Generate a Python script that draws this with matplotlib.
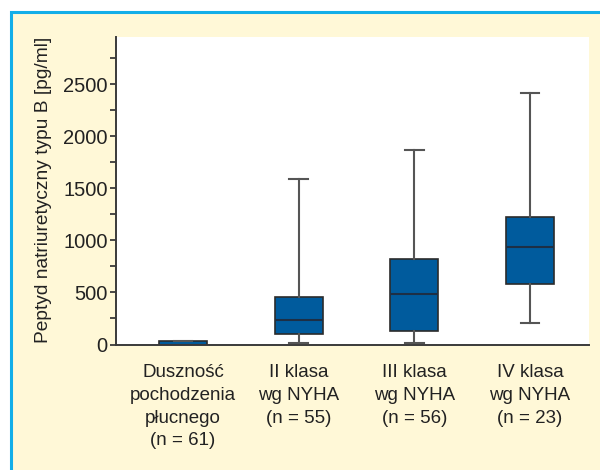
import matplotlib
matplotlib.use("Agg")
import matplotlib.pyplot as plt
from matplotlib.patches import Rectangle

# group labels and box statistics (pg/ml)
groups = ["Duszność\npochodzenia\npłucnego\n(n = 61)",
          "II klasa\nwg NYHA\n(n = 55)",
          "III klasa\nwg NYHA\n(n = 56)",
          "IV klasa\nwg NYHA\n(n = 23)"]
whis_lo = [0, 10, 10, 210]
q1 = [0, 100, 125, 580]
median = [0, 240, 490, 940]
q3 = [35, 460, 825, 1230]
whis_hi = [35, 1590, 1865, 2420]

yticks = [0, 500, 1000, 1500, 2000, 2500]

plt.rcParams["font.family"] = ["Liberation Sans", "DejaVu Sans"]

cream = "#fff8d7"
blue_box = "#005b9d"
frame_blue = "#13aee8"

fig = plt.figure(figsize=(6, 4.7), dpi=100, facecolor="white")
# cream panel with blue border on top/left
panel = Rectangle((11/600, -0.1), 1.2, (470-12)/470 + 0.1,
                  transform=fig.transFigure, facecolor=cream,
                  edgecolor=frame_blue, lw=2.2, zorder=-10)
fig.add_artist(panel)

ax = fig.add_axes([116/600, 1-344.5/470, (589-116)/600, (344.5-37)/470])
ax.set_zorder(5)
ax.set_facecolor("white")

stats = []
for i in range(len(groups)):
    stats.append(dict(whislo=whis_lo[i], q1=q1[i], med=median[i],
                      q3=q3[i], whishi=whis_hi[i], fliers=[]))

ax.bxp(stats, positions=range(1, len(groups)+1), widths=0.415,
       capwidths=0.16, patch_artist=True, showfliers=False,
       boxprops=dict(facecolor=blue_box, edgecolor="#2b2b2b", lw=1.2),
       medianprops=dict(color="#1d2f45", lw=1.5),
       whiskerprops=dict(color="#555555", lw=1.5),
       capprops=dict(color="#555555", lw=1.5))

ax.set_xlim(0.42, 4.51)
ax.set_ylim(0, 2955)
ax.set_yticks(yticks)
ax.set_yticks(range(250, 3000, 500), minor=True)
ax.set_xticks(range(1, len(groups)+1))
ax.set_xticklabels(groups, fontsize=13.5, color="#222222", linespacing=1.45)

for s in ["top", "right"]:
    ax.spines[s].set_visible(False)
for s in ["left", "bottom"]:
    ax.spines[s].set_color("#3a3a3a")
    ax.spines[s].set_linewidth(1.4)

ax.tick_params(axis="y", which="both", length=4, width=1.3, color="#3a3a3a",
               pad=2, labelsize=14.5, labelcolor="#222222")
ax.tick_params(axis="x", length=0, pad=14)

fig.text(44/600, 1-190/470, "Peptyd natriuretyczny typu B [pg/ml]",
         rotation=90, ha="center", va="center", fontsize=13.8,
         color="#222222")

fig.savefig("out.png", dpi=100, facecolor=fig.get_facecolor())
